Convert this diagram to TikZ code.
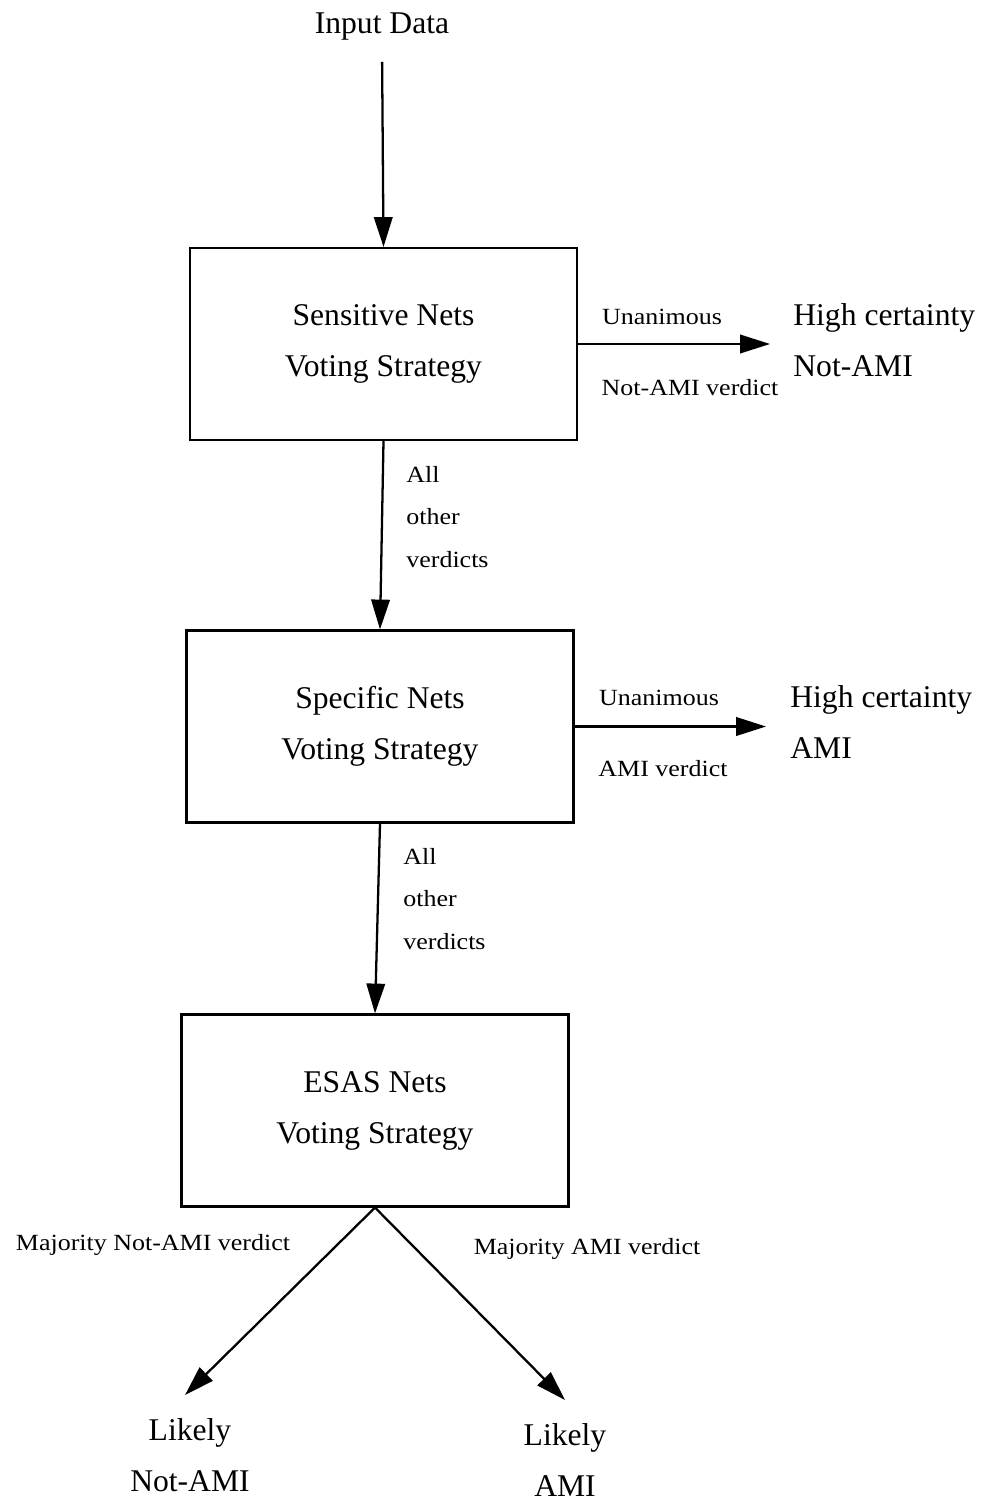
\documentclass[tikz,border=0pt]{standalone}
\usepackage{fontspec}
\setmainfont{Liberation Serif}
\newfontfamily\labelfont[FakeStretch=1.12]{Liberation Serif}
\usetikzlibrary{arrows.meta,positioning}
\tikzset{
  bigtxt/.style={font=\fontsize{18}{29}\selectfont},
  smalltxt/.style={font=\labelfont\fontsize{13.2}{24}\selectfont},
  votebox/.style={draw,line width=1.2pt,minimum width=7.74cm,minimum height=3.84cm,
    align=center,bigtxt},
  flow/.style={-{Triangle[length=17pt,width=10.5pt]},line width=1.3pt},
}

\begin{document}
\begin{tikzpicture}[x=0.02cm,y=-0.02cm]
  \useasboundingbox (0,0) rectangle (985,1503);
  % input and the three voting stages
  \node[bigtxt] (input) at (382,27) {Input Data};
  \node[votebox] (sens) at (383.5,344) {Sensitive Nets\\Voting Strategy};
  \node[votebox] (spec) at (380,726.5) {Specific Nets\\Voting Strategy};
  \node[votebox] (esas) at (375,1110.5) {ESAS Nets\\Voting Strategy};
  % outcomes
  \node[bigtxt,align=left,anchor=west,inner xsep=0.46cm] (hcnot) at (770,340) {High certainty\\Not-AMI};
  \node[bigtxt,align=left,anchor=west,inner xsep=0.48cm] (hcami) at (766,722) {High certainty\\AMI};
  \node[bigtxt,align=center] (likenot) at (190,1455) {Likely\\Not-AMI};
  \node[bigtxt,align=center] (likeami) at (565,1460) {Likely\\AMI};
  \coordinate (tipnot) at (185,1395);
  \coordinate (tipami) at (565,1400);
  % connector labels
  \node[smalltxt] (un1) at (662,317) {Unanimous};
  \node[smalltxt] (ver1) at (690,388) {Not-AMI verdict};
  \node[smalltxt] (un2) at (659,698) {Unanimous};
  \node[smalltxt] (ver2) at (663,769) {AMI verdict};
  \node[smalltxt,align=left,anchor=west,inner sep=0pt] (oth1) at (406,517) {All\\other\\verdicts};
  \node[smalltxt,align=left,anchor=west,inner sep=0pt] (oth2) at (403,899) {All\\other\\verdicts};
  \node[smalltxt] (majnot) at (153,1245) {Majority Not-AMI verdict};
  \node[smalltxt] (majami) at (587,1249) {Majority AMI verdict};
  % arrows
  \draw[flow,shorten <=0.3cm] (input.south) -- (sens.north);
  \draw[flow] (sens.east) -- (sens.east -| hcnot.west);
  \draw[flow] (sens.south) -- (spec.north);
  \draw[flow] (spec.east) -- (spec.east -| hcami.west);
  \draw[flow] (spec.south) -- (esas.north);
  \draw[flow] (esas.south) -- (tipnot);
  \draw[flow] (esas.south) -- (tipami);
\end{tikzpicture}
\end{document}
